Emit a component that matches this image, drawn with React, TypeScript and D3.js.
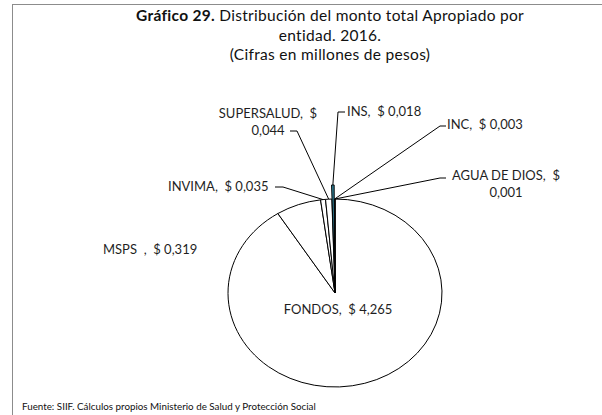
import React, { useRef, useEffect } from 'react';
import * as d3 from 'd3';

// Datos del gráfico (millones de pesos)
const entidades = ['FONDOS', 'MSPS', 'INVIMA', 'SUPERSALUD', 'INS', 'INC', 'AGUA DE DIOS'];
const montos = [4.265, 0.319, 0.035, 0.044, 0.018, 0.003, 0.001];
const destacada = 'INS';

const tituloNegrita = 'Gráfico 29.';
const tituloLineas = [' Distribución del monto total Apropiado por', 'entidad. 2016.', '(Cifras en millones de pesos)'];
const fuente = 'Fuente: SIIF. Cálculos propios Ministerio de Salud y Protección Social';

// Posición de cada etiqueta (x, y de la línea base, anclaje, cortes de línea, guía)
const etiquetas: Record<string, any> = {
  FONDOS: { x: 338, y: 314, anchor: 'middle', nombre: 'FONDOS,', split: false },
  MSPS: { x: 103, y: 254, anchor: 'start', nombre: 'MSPS  ,', split: false },
  INVIMA: { x: 168, y: 191, anchor: 'start', nombre: 'INVIMA,', split: false, guia: [[275, 187], [283, 187]] },
  SUPERSALUD: { x: 268, y: 118, anchor: 'middle', nombre: 'SUPERSALUD,', split: true, guia: [[290, 131], [297, 131]] },
  INS: { x: 347, y: 116, anchor: 'start', nombre: 'INS,', split: false, guia: [[345, 112], [338, 112]] },
  INC: { x: 447, y: 129, anchor: 'start', nombre: 'INC,', split: false, guia: [[446, 126], [440, 126]] },
  'AGUA DE DIOS': { x: 506, y: 180, anchor: 'middle', nombre: 'AGUA DE DIOS,', split: true, guia: [[446, 178], [440, 178]] },
};

const W = 602;
const H = 415;
const fontFam = 'Lato, "Open Sans", sans-serif';

function GraficoTorta() {
  const ref = useRef<SVGSVGElement>(null);

  useEffect(() => {
    if (!ref.current) return;
    const svg = d3.select(ref.current);
    svg.selectAll('*').remove();

    // marco de la figura
    svg.append('line').attr('x1', 12.5).attr('x2', 12.5).attr('y1', 4).attr('y2', H).attr('stroke', '#8c8c8c').attr('stroke-width', 1);
    svg.append('line').attr('x1', 12).attr('x2', W).attr('y1', 4.5).attr('y2', 4.5).attr('stroke', '#8c8c8c').attr('stroke-width', 1);

    // título
    const titulo = svg.append('text').attr('text-anchor', 'middle').attr('font-family', fontFam)
      .attr('font-size', 15.5).attr('letter-spacing', 0.3).attr('fill', '#111')
      .style('font-variant-ligatures', 'none');
    const t1 = titulo.append('tspan').attr('x', 330).attr('y', 21);
    t1.append('tspan').attr('font-weight', 'bold').text(tituloNegrita);
    t1.append('tspan').text(tituloLineas[0]);
    titulo.append('tspan').attr('x', 330).attr('y', 41).text(tituloLineas[1]);
    titulo.append('tspan').attr('x', 330).attr('y', 60).text(tituloLineas[2]);

    // torta elíptica
    const cx = 335, cy = 293, rx = 107, ry = 94;
    const sy = ry / rx;
    const datos = entidades.map((e, i) => ({ entidad: e, monto: montos[i] }));
    const pie = d3.pie<any>().sort(null).value(d => d.monto).startAngle(0).endAngle(2 * Math.PI);
    const arcos = pie(datos);
    const arc = d3.arc<any>().innerRadius(0).outerRadius(rx);

    const g = svg.append('g').attr('transform', `translate(${cx},${cy}) scale(1,${sy})`);
    const explotar = 16;
    g.selectAll('path.slice')
      .data(arcos)
      .enter().append('path')
      .attr('class', 'slice')
      .attr('d', arc)
      .attr('transform', d => {
        if (d.data.entidad !== destacada) return null;
        const a = (d.startAngle + d.endAngle) / 2;
        return `translate(${Math.sin(a) * explotar},${-Math.cos(a) * explotar})`;
      })
      .attr('fill', d => d.data.entidad === destacada ? '#31849b' : '#ffffff')
      .attr('stroke', '#000')
      .attr('stroke-width', 1)
      .attr('vector-effect', 'non-scaling-stroke')
      .attr('stroke-linejoin', 'round');

    const fmt = d3.formatLocale({ decimal: ',', thousands: '.', grouping: [3], currency: ['$', ''] }).format('.3f');

    // guías y etiquetas
    arcos.forEach(d => {
      const e = d.data.entidad;
      const cfg = etiquetas[e];
      const a = (d.startAngle + d.endAngle) / 2;
      const off = e === destacada ? explotar : 0;
      const px = cx + Math.sin(a) * (rx + off);
      const py = cy - Math.cos(a) * (rx + off) * sy;
      if (cfg.guia) {
        const pts = [...cfg.guia, [px, py]];
        svg.append('path')
          .attr('d', d3.line()(pts as [number, number][]))
          .attr('fill', 'none').attr('stroke', '#000').attr('stroke-width', 1);
      }
      const valor = fmt(d.data.monto);
      const txt = svg.append('text')
        .attr('font-family', fontFam).attr('font-size', 13).attr('fill', '#1f1f1f')
        .attr('text-anchor', cfg.anchor).style('white-space', 'pre')
        .style('font-variant-ligatures', 'none');
      if (cfg.split) {
        txt.append('tspan').attr('x', cfg.x).attr('y', cfg.y).text(`${cfg.nombre}  $`);
        txt.append('tspan').attr('x', cfg.x).attr('y', cfg.y + 17).text(valor);
      } else {
        txt.append('tspan').attr('x', cfg.x).attr('y', cfg.y).text(`${cfg.nombre}  $ ${valor}`);
      }
    });

    // fuente
    svg.append('text').attr('x', 22).attr('y', 410)
      .attr('font-family', fontFam).attr('font-size', 9.8).attr('fill', '#111')
      .style('font-variant-ligatures', 'none')
      .text(fuente);
  }, []);

  return <svg ref={ref} width={W} height={H} style={{ display: 'block', background: '#fff' }} />;
}

export default function App() {
  return (
    <div style={{ position: 'fixed', left: 0, top: 0 }}>
      <GraficoTorta />
    </div>
  );
}
